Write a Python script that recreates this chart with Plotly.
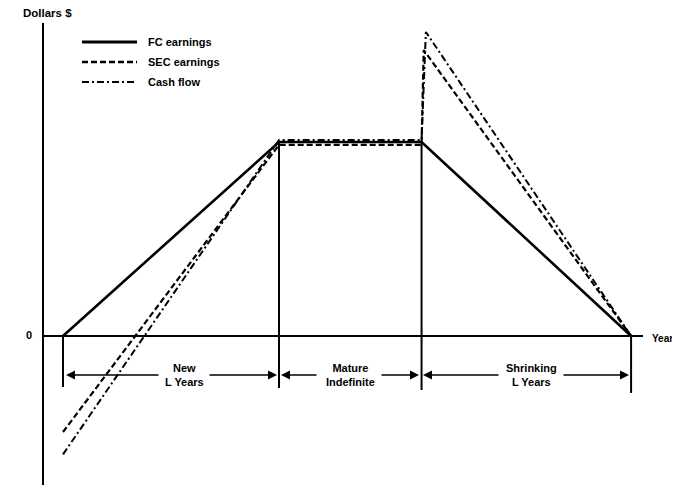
import plotly.graph_objects as go

# ---- data (x in units of L years, y in relative dollars) ----
phase_x = [0.0, 1.0, 1.66, 2.63]          # start, end new, end mature, end shrinking
fc_x = [0.0, 1.0, 1.66, 2.63]
fc_y = [0.0, 1.0, 1.0, 0.0]
sec_x = [0.0, 1.0, 1.66, 1.67, 2.63]
sec_y = [-0.495, 0.985, 0.985, 1.474, 0.0]
cash_x = [0.0, 1.0, 1.66, 1.68, 2.63]
cash_y = [-0.61, 1.01, 1.01, 1.567, 0.0]
series_names = ["FC earnings", "SEC earnings", "Cash flow"]
phase_labels = ["New<br>L Years", "Mature<br>Indefinite", "Shrinking<br>L Years"]

OFF = 8              # page body margin in the browser
W, H = 680 - OFF, 485 - OFF
X0, XS = 63 - OFF, 216.0   # pixel of x=0 (figure coords), px per unit
Y0, YS = 336 - OFF, 194.0  # pixel of y=0, px per unit


def dx(p):  # reference page pixel -> data x
    return (p - OFF - X0) / XS


def dy(p):  # reference page pixel -> data y
    return (Y0 - (p - OFF)) / YS


def px(p):
    return (p - OFF) / W


def py(p):
    return 1 - (p - OFF) / H


FONT = "Liberation Sans, Arial, sans-serif"
fig = go.Figure()

fig.add_trace(go.Scatter(x=fc_x, y=fc_y, mode="lines", name=series_names[0],
                         line=dict(color="black", width=2.6), showlegend=False))
fig.add_trace(go.Scatter(x=sec_x, y=sec_y, mode="lines", name=series_names[1],
                         line=dict(color="black", width=2.2, dash="6px,3px"), showlegend=False))
fig.add_trace(go.Scatter(x=cash_x, y=cash_y, mode="lines", name=series_names[2],
                         line=dict(color="black", width=2.0, dash="7px,3px,2px,3px"), showlegend=False))

shapes = []
# axes
shapes.append(dict(type="line", x0=dx(43), x1=dx(43), y0=dy(490), y1=dy(23),
                   line=dict(color="black", width=2)))
shapes.append(dict(type="line", x0=dx(43), x1=dx(643), y0=0, y1=0,
                   line=dict(color="black", width=1.8)))
# phase boundary verticals
tops = [0.0, 1.0, 1.0, 0.0]
bots = [dy(387), dy(388), dy(390), dy(393)]
for xv, t, b in zip(phase_x, tops, bots):
    shapes.append(dict(type="line", x0=xv, x1=xv, y0=b, y1=t,
                       line=dict(color="black", width=2)))

# manual legend
leg_y = [42, 62, 82]
leg_dash = ["solid", "6px,3px", "7px,3px,2px,3px"]
leg_w = [2.8, 2.4, 2.2]
annotations = []
for name, yy, d, w in zip(series_names, leg_y, leg_dash, leg_w):
    shapes.append(dict(type="line", xref="paper", yref="paper",
                       x0=px(82), x1=px(137), y0=py(yy), y1=py(yy),
                       line=dict(color="black", width=w, dash=d)))
    annotations.append(dict(xref="paper", yref="paper", x=px(146), y=py(yy),
                            text="<b>" + name + "</b>", showarrow=False,
                            xanchor="left", yanchor="middle",
                            font=dict(family=FONT, size=11, color="black")))

# text labels
annotations.append(dict(xref="paper", yref="paper", x=px(21), y=py(13), text="<b>Dollars $</b>",
                        showarrow=False, xanchor="left", yanchor="middle",
                        font=dict(family=FONT, size=11.5, color="black")))
annotations.append(dict(x=dx(29), y=dy(335), text="<b>0</b>", showarrow=False,
                        xanchor="center", yanchor="middle",
                        font=dict(family=FONT, size=11, color="black")))
annotations.append(dict(x=dx(650), y=dy(338), text="<b>Years</b>", showarrow=False,
                        xanchor="left", yanchor="middle",
                        font=dict(family=FONT, size=10, color="black")))

# dimension arrows
ya = dy(375)
arrows = [(160, 66), (208, 277), (318, 281), (380, 419), (500, 423), (562, 629)]
for tail, head in arrows:
    annotations.append(dict(x=dx(head), y=ya, ax=dx(tail), ay=ya, axref="x", ayref="y",
                            text="", showarrow=True, arrowhead=2, arrowsize=1.2,
                            arrowwidth=1.5, arrowcolor="black"))
label_x = [184, 350, 531]
for lx, lab in zip(label_x, phase_labels):
    annotations.append(dict(x=dx(lx), y=ya, text="<b>" + lab.replace("<br>", "</b><br><b>") + "</b>",
                            showarrow=False, xanchor="center", yanchor="middle",
                            font=dict(family=FONT, size=11, color="black")))

fig.update_layout(
    width=W, height=H, margin=dict(l=0, r=0, t=0, b=0),
    paper_bgcolor="white", plot_bgcolor="white",
    xaxis=dict(range=[dx(OFF), dx(OFF + W)], visible=False, fixedrange=True),
    yaxis=dict(range=[dy(OFF + H), dy(OFF)], visible=False, fixedrange=True),
    shapes=shapes, annotations=annotations, showlegend=False,
)
fig.write_html("out.html")
